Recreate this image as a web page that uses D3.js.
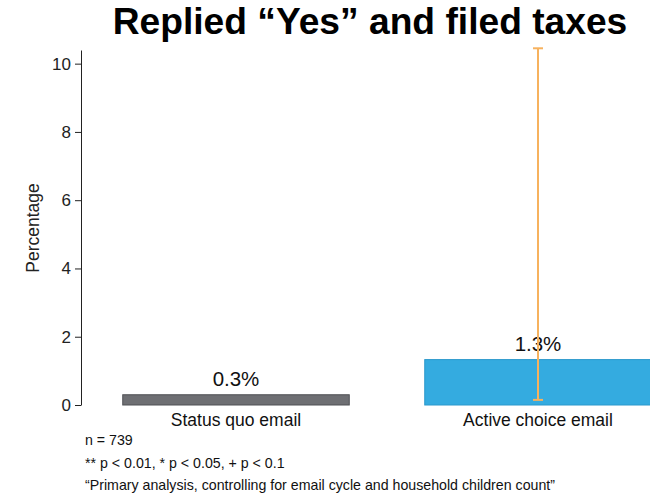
<!DOCTYPE html>
<html>
<head>
<meta charset="utf-8">
<script src="https://cdn.jsdelivr.net/npm/d3@7"></script>
<style>
  body { margin: 0; background: #fff; }
  svg { display: block; font-family: "Liberation Sans", Arial, sans-serif; }
</style>
</head>
<body>
<svg id="chart" width="650" height="494"></svg>
<script>
// Chart data
const categories = ["Status quo email", "Active choice email"];
const values = [0.3, 1.33];
const valueLabels = ["0.3%", "1.3%"];
const errLow = [null, 0.15];
const errHigh = [null, 10.45];
const yTicks = [0, 2, 4, 6, 8, 10];
const notes = [
    "n = 739",
    "** p < 0.01, * p < 0.05, + p < 0.1",
    "\u201cPrimary analysis, controlling for email cycle and household children count\u201d"
];

const svg = d3.select("#chart");

const x = d3.scaleBand()
    .domain(categories)
    .range([85, 689])
    .paddingInner(0.25)
    .paddingOuter(0.125);

const y = d3.scaleLinear()
    .domain([0, 10.4])
    .range([405, 50]);

// Title
svg.append("text")
    .attr("x", 370)
    .attr("y", 34)
    .attr("text-anchor", "middle")
    .attr("font-size", 37.2)
    .attr("font-weight", "bold")
    .attr("fill", "#000")
    .text("Replied \u201cYes\u201d and filed taxes");

// Bars
const fills = ["#6e6f73", "#34abe0"];
const strokes = ["#4f5054", "#2a98cc"];
svg.selectAll("rect.bar")
    .data(values)
    .join("rect")
    .attr("class", "bar")
    .attr("x", (d, i) => x(categories[i]))
    .attr("y", d => y(d))
    .attr("width", x.bandwidth())
    .attr("height", d => y(0) - y(d))
    .attr("fill", (d, i) => fills[i])
    .attr("stroke", (d, i) => strokes[i])
    .attr("stroke-width", 1);

// Value labels
svg.selectAll("text.val")
    .data(valueLabels)
    .join("text")
    .attr("class", "val")
    .attr("x", (d, i) => x(categories[i]) + x.bandwidth() / 2)
    .attr("y", (d, i) => y(values[i]) - 9)
    .attr("text-anchor", "middle")
    .attr("font-size", 20.5)
    .attr("fill", "#111")
    .text(d => d);

// Error bar (only for active choice)
const errData = categories.map((c, i) => ({ c, lo: errLow[i], hi: errHigh[i] }))
    .filter(d => d.lo != null);
const eg = svg.append("g")
    .attr("stroke", "#f7b25e")
    .attr("stroke-width", 2);
errData.forEach(d => {
    const cx = x(d.c) + x.bandwidth() / 2;
    eg.append("line").attr("x1", cx).attr("x2", cx).attr("y1", y(d.hi)).attr("y2", y(d.lo));
    eg.append("line").attr("x1", cx - 5).attr("x2", cx + 5).attr("y1", y(d.hi)).attr("y2", y(d.hi));
    eg.append("line").attr("x1", cx - 5).attr("x2", cx + 5).attr("y1", y(d.lo)).attr("y2", y(d.lo));
});

// Y axis
const yAxis = svg.append("g")
    .attr("transform", "translate(81,0)")
    .call(d3.axisLeft(y).tickValues(yTicks).tickSize(6).tickPadding(4).tickSizeOuter(0));
yAxis.select(".domain").attr("stroke", "#222");
yAxis.selectAll(".tick line").attr("stroke", "#222");
yAxis.selectAll(".tick text")
    .attr("font-size", 17)
    .attr("fill", "#222")
    .attr("font-family", "'Liberation Sans', Arial, sans-serif");

// Y label
svg.append("text")
    .attr("transform", "translate(39,228) rotate(-90)")
    .attr("text-anchor", "middle")
    .attr("font-size", 17.5)
    .attr("fill", "#222")
    .text("Percentage");

// Category labels
svg.selectAll("text.cat")
    .data(categories)
    .join("text")
    .attr("class", "cat")
    .attr("x", d => x(d) + x.bandwidth() / 2)
    .attr("y", 426)
    .attr("text-anchor", "middle")
    .attr("font-size", 17.5)
    .attr("fill", "#111")
    .text(d => d);

// Footnotes
svg.selectAll("text.note")
    .data(notes)
    .join("text")
    .attr("class", "note")
    .attr("x", 85)
    .attr("y", (d, i) => 445 + i * 22.5)
    .attr("font-size", 14.2)
    .attr("fill", "#111")
    .text(d => d);
</script>
</body>
</html>
